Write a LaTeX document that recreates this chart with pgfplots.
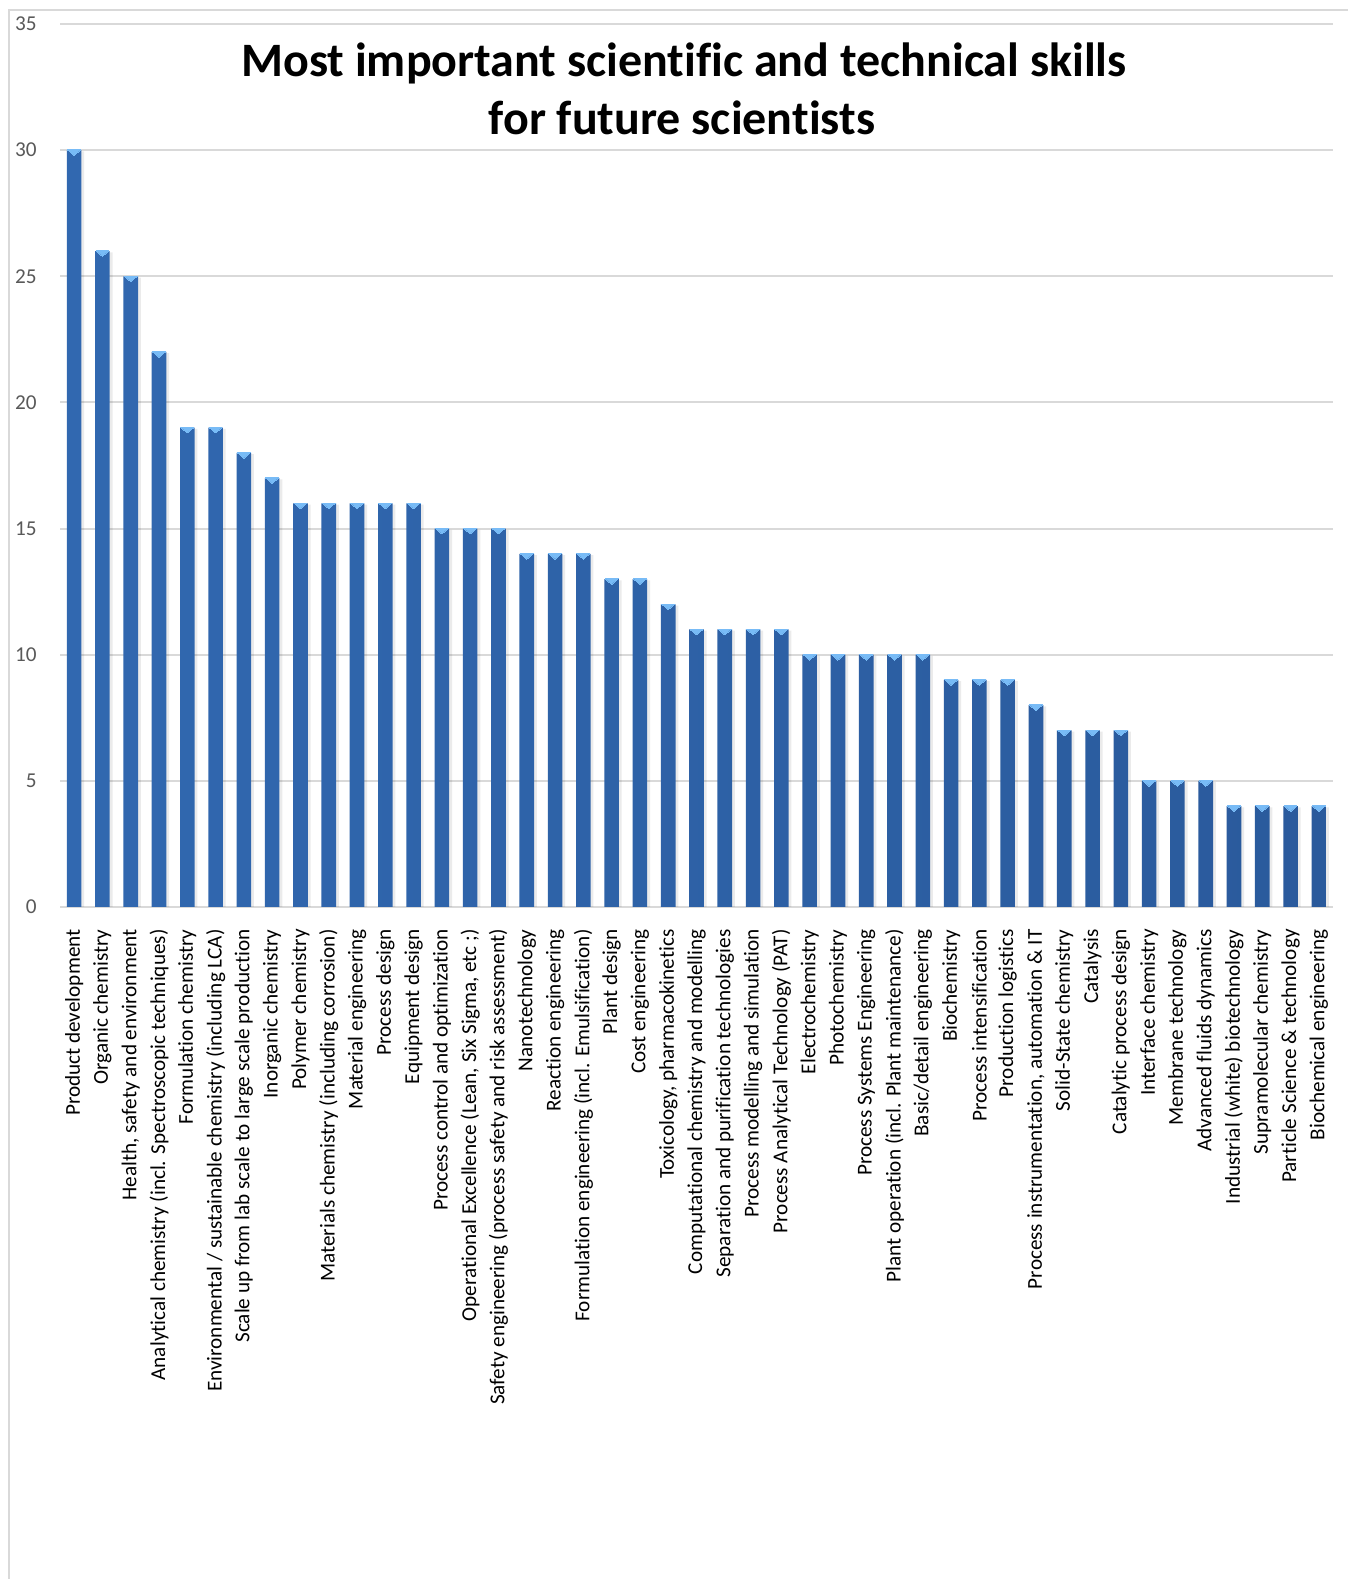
\documentclass[border=0pt]{standalone}
\usepackage{pgfplots}
\pgfplotsset{compat=1.18}
\usepackage{pgfplotstable}
\usepackage{fontspec}
\setmainfont[Ligatures=NoCommon]{Carlito}

\definecolor{gridgray}{HTML}{D9D9D9}
\definecolor{ticklabgray}{HTML}{595959}
\definecolor{barleft}{HTML}{3168B0}
\definecolor{barmid}{HTML}{5592DC}
\definecolor{barright}{HTML}{2A5A9C}
\definecolor{barcap}{HTML}{78BBF6}

% number of respondents naming each skill, in rank order
\pgfplotstableread{
idx value
0  30
1  26
2  25
3  22
4  19
5  19
6  18
7  17
8  16
9  16
10 16
11 16
12 16
13 15
14 15
15 15
16 14
17 14
18 14
19 13
20 13
21 12
22 11
23 11
24 11
25 11
26 10
27 10
28 10
29 10
30 10
31 9
32 9
33 9
34 8
35 7
36 7
37 7
38 5
39 5
40 5
41 4
42 4
43 4
44 4
}\skilldata

\begin{document}
\begin{tikzpicture}
\useasboundingbox (0,0) rectangle (674pt,789.5pt);
\fill[white] (0,0) rectangle (674pt,789.5pt);
\draw[gridgray, line width=0.8pt] (4.5pt,0) -- (4.5pt,784.5pt) -- (674pt,784.5pt);

\begin{axis}[
  at={(30pt,336pt)}, anchor=south west,
  scale only axis,
  width=636.5pt, height=441.5pt,
  xmin=-0.5, xmax=44.5, ymin=0, ymax=35,
  ytick={0,5,...,35},
  xtick=data,
  xticklabels={
    {Product development},
    {Organic chemistry},
    {Health, safety and environment},
    {Analytical chemistry (incl. Spectroscopic techniques)},
    {Formulation chemistry},
    {Environmental / sustainable chemistry (including LCA)},
    {Scale up from lab scale to large scale production},
    {Inorganic chemistry},
    {Polymer chemistry},
    {Materials chemistry (including corrosion)},
    {Material engineering},
    {Process design},
    {Equipment design},
    {Process control and optimization},
    {Operational Excellence (Lean, Six Sigma, etc ;)},
    {Safety engineering (process safety and risk assessment)},
    {Nanotechnology},
    {Reaction engineering},
    {Formulation engineering (incl. Emulsification)},
    {Plant design},
    {Cost engineering},
    {Toxicology, pharmacokinetics},
    {Computational chemistry and modelling},
    {Separation and purification technologies},
    {Process modelling and simulation},
    {Process Analytical Technology (PAT)},
    {Electrochemistry},
    {Photochemistry},
    {Process Systems Engineering},
    {Plant operation (incl. Plant maintenance)},
    {Basic/detail engineering},
    {Biochemistry},
    {Process intensification},
    {Production logistics},
    {Process instrumentation, automation \& IT},
    {Solid-State chemistry},
    {Catalysis},
    {Catalytic process design},
    {Interface chemistry},
    {Membrane technology},
    {Advanced fluids dynamics},
    {Industrial (white) biotechnology},
    {Supramolecular chemistry},
    {Particle Science \& technology},
    {Biochemical engineering}
  },
  axis line style={draw=none},
  major tick length=0pt,
  ymajorgrids,
  grid style={gridgray, line width=1pt},
  tick label style={font=\fontsize{10.6}{12}\selectfont},
  yticklabel style={color=ticklabgray, anchor=east, inner xsep=11.5pt},
  xticklabel style={rotate=90, anchor=east, black, inner xsep=11pt},
  /pgf/number format/assume math mode=true,
  clip=false,
]
% faint shadow to the lower right of each bar
\addplot[ybar, bar width=7.3pt, draw=none, fill=black, fill opacity=0.08,
  bar shift=1.4pt, forget plot]
  table[x=idx, y expr=\thisrow{value}-0.05] {\skilldata};
\addplot[ybar, bar width=7.3pt, draw=none,
  shading=axis, shading angle=90,
  left color=barleft, middle color=barmid, right color=barright]
  table[x=idx, y=value] {\skilldata};
% bevelled light cap at the top of each bar
\addplot[only marks, color=barcap, mark=triangle*,
  mark size=3.7pt,
  mark options={draw=barcap, fill=barcap, line width=0pt, yshift=-0.8pt, yscale=-0.5}]
  table[x=idx, y=value] {\skilldata};
\end{axis}

\node[anchor=base, font=\fontsize{24}{28}\selectfont\bfseries]
  at (342pt,751pt) {Most important scientific and technical skills};
\node[anchor=base, font=\fontsize{24}{28}\selectfont\bfseries]
  at (341pt,722pt) {for future scientists};
\end{tikzpicture}
\end{document}
